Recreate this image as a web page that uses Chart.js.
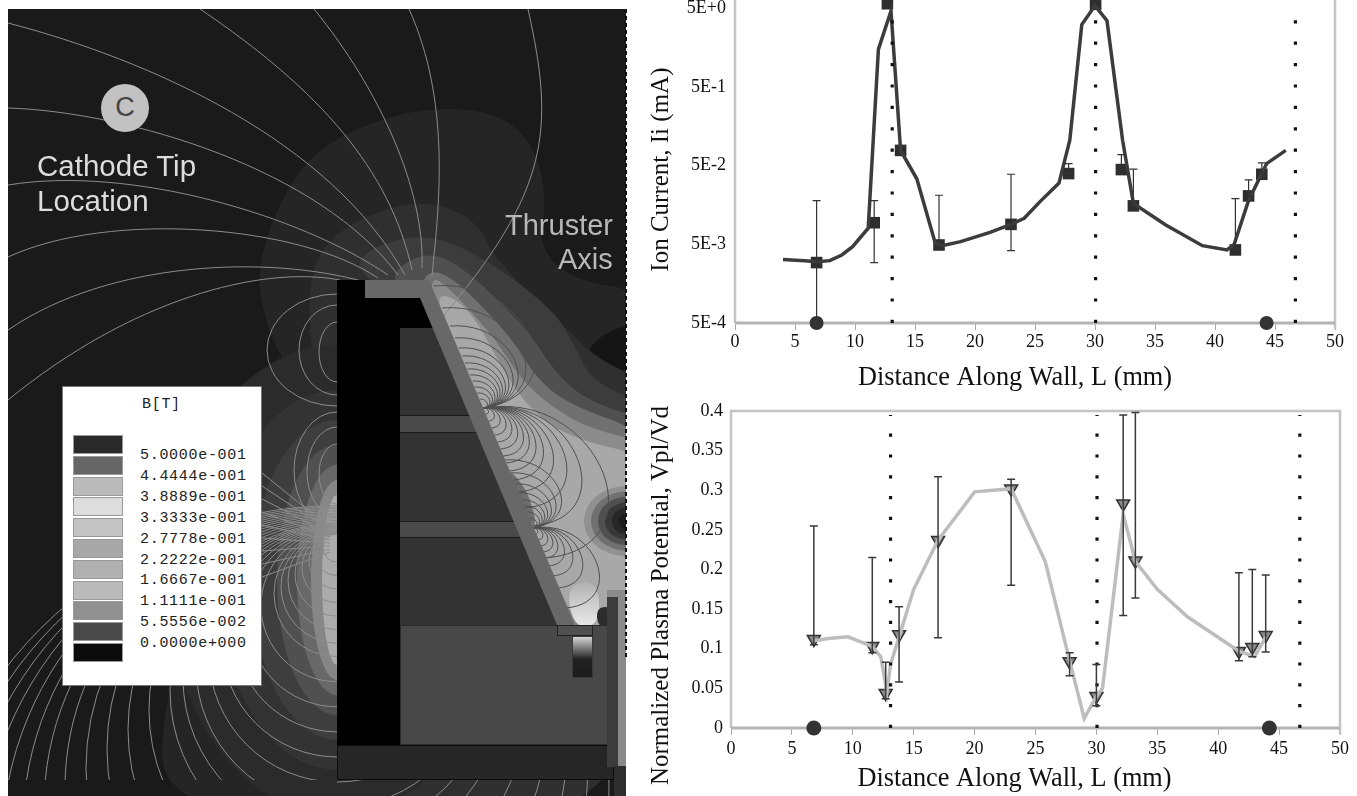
<!DOCTYPE html>
<html>
<head>
<meta charset="utf-8">
<title>Ion current and plasma potential along the wall</title>
<script src="https://cdn.jsdelivr.net/npm/chart.js@4"></script>
<style>
  html, body { margin: 0; padding: 0; background: #fff; }
  body { position: relative; width: 1357px; height: 796px; overflow: hidden; }
  canvas { position: absolute; display: block; }
  #fieldMap { left: 0; top: 0; }
  #ionChart { left: 640px; top: 0; }
  #potentialChart { left: 640px; top: 395px; }
  .label { position: absolute; white-space: nowrap; font-family: "Liberation Sans", sans-serif; }
  #legendBox { position: absolute; left: 62px; top: 386px; width: 198px; height: 298px; background: #fff; border: 1px solid #777; }
  .swatch { position: absolute; left: 10px; width: 50px; height: 19px; border: 1px solid #999; box-sizing: border-box; }
  .level { position: absolute; left: 77px; font: 15px "Liberation Mono", monospace; letter-spacing: 0.7px; color: #222; line-height: 18px; }
</style>
</head>
<body>
<canvas id="fieldMap" width="640" height="796"></canvas>
<div id="legendBox"></div>
<div class="label" style="left:101px;top:84px;width:48px;height:48px;line-height:46px;text-align:center;font-size:27px;color:#444;background:#c2c2c2;border-radius:50%">C</div>
<div class="label" style="left:37px;top:149px;font-size:29.5px;color:#ddd">Cathode Tip</div>
<div class="label" style="left:37px;top:184px;font-size:29.5px;color:#ddd">Location</div>
<div class="label" style="left:505px;top:209px;font-size:29px;color:#b8b8b8">Thruster</div>
<div class="label" style="left:558px;top:243px;font-size:29px;color:#b8b8b8">Axis</div>
<canvas id="ionChart" width="717" height="395"></canvas>
<canvas id="potentialChart" width="717" height="401"></canvas>

<script>
// DATA

const xTicks = [0, 5, 10, 15, 20, 25, 30, 35, 40, 45, 50];
const wallMarks = [13.1, 30.05, 46.7];

const ionTickValues = [5e-4, 5e-3, 5e-2, 5e-1, 5];
const ionTickLabels = ['5E-4', '5E-3', '5E-2', '5E-1', '5E+0'];
const ionLineX = [4, 5.8, 6.8, 7.9, 8.9, 9.8, 11.1, 11.95, 13, 13.8, 15.15, 16.7, 17.25, 18.8, 21.25, 23, 24.1, 25.4, 27, 27.9, 28.9, 30, 31, 32.3, 33.2, 35.9, 38.95, 41, 41.6, 42.8, 44.3, 45.9];
const ionLineY = [3.2e-3, 3.1e-3, 3e-3, 3.1e-3, 3.66e-3, 4.67e-3, 8e-3, 1.5, 4.6, 7.8e-2, 3.4e-2, 5.1e-3, 4.8e-3, 5.4e-3, 7.1e-3, 8.96e-3, 1.07e-2, 1.73e-2, 3e-2, 1.05e-1, 3.1, 5.4, 3.46, 1.05e-1, 1.65e-2, 8.8e-3, 4.8e-3, 4.24e-3, 5e-3, 1.8e-2, 5.3e-2, 7.8e-2];
const ionPointX = [6.8, 11.6, 12.7, 13.8, 17, 23, 27.8, 30.05, 32.2, 33.2, 41.7, 42.8, 43.9];
const ionPointY = [2.93e-3, 9.4e-3, 5.7, 7.8e-2, 4.9e-3, 8.96e-3, 3.96e-2, 5.6, 4.45e-2, 1.54e-2, 4.24e-3, 2.06e-2, 3.88e-2];
const ionErrHigh = [1.79e-2, 1.79e-2, 5.7, 7.8e-2, 2.1e-2, 3.88e-2, 5.3e-2, 5.6, 6.9e-2, 4.5e-2, 1.9e-2, 3.3e-2, 5.4e-2];
const ionErrLow = [5.8e-4, 2.93e-3, 5.7, 7.8e-2, 4.9e-3, 4.16e-3, 3.96e-2, 5.6, 4.45e-2, 1.54e-2, 4.24e-3, 2.06e-2, 3.88e-2];
const ionPoleX = [6.8, 44.3];

const potTickValues = [0, 0.05, 0.1, 0.15, 0.2, 0.25, 0.3, 0.35, 0.4];
const potTickLabels = ['0', '0.05', '0.1', '0.15', '0.2', '0.25', '0.3', '0.35', '0.4'];
const potLineX = [6.8, 8, 9.6, 11.6, 12.3, 12.8, 13.1, 13.8, 15, 17, 20, 23, 25.8, 27.8, 29, 30, 30.5, 32.2, 33.2, 35, 37.5, 41.7, 43, 43.9];
const potLineY = [0.11, 0.113, 0.115, 0.103, 0.09, 0.045, 0.08, 0.115, 0.175, 0.237, 0.298, 0.302, 0.21, 0.085, 0.012, 0.04, 0.05, 0.27, 0.21, 0.175, 0.14, 0.097, 0.09, 0.115];
const potPointX = [6.8, 11.6, 12.7, 13.8, 17, 23, 27.8, 30, 32.2, 33.2, 41.7, 42.8, 43.9];
const potPointY = [0.112, 0.103, 0.044, 0.118, 0.237, 0.302, 0.084, 0.04, 0.283, 0.211, 0.097, 0.102, 0.117];
const potErrHigh = [0.255, 0.215, 0.083, 0.153, 0.317, 0.314, 0.095, 0.08, 0.395, 0.398, 0.196, 0.2, 0.193];
const potErrLow = [0.105, 0.095, 0.037, 0.058, 0.114, 0.18, 0.066, 0.028, 0.142, 0.164, 0.085, 0.09, 0.096];
const potPoleX = [6.8, 44.2];

const legendLevels = ['5.0000e-001', '4.4444e-001', '3.8889e-001', '3.3333e-001', '2.7778e-001', '2.2222e-001', '1.6667e-001', '1.1111e-001', '5.5556e-002', '0.0000e+000'];
const legendColors = ['#2a2a2a', '#666666', '#bbbbbb', '#dddddd', '#c4c4c4', '#a8a8a8', '#b0b0b0', '#bbbbbb', '#909090', '#4a4a4a', '#0c0c0c'];

// LEGEND BOX

const legendBox = document.getElementById('legendBox');
legendBox.insertAdjacentHTML('beforeend', '<div class="level" style="left:79px;top:9px">B[T]</div>');
legendColors.forEach((c, i) => {
    legendBox.insertAdjacentHTML('beforeend', `<div class="swatch" style="top:${48 + i * 20.8}px;background:${c}"></div>`);
});
legendLevels.forEach((t, i) => {
    legendBox.insertAdjacentHTML('beforeend', `<div class="level" style="top:${60 + i * 20.9}px">${t}</div>`);
});

// FIELD MAP PICTURE (illustration next to the charts, not data)

function drawFieldMap() {
    const c = document.getElementById('fieldMap').getContext('2d');

    function blob(color, pts) {
        c.fillStyle = color;
        c.beginPath();
        const n = pts.length;
        c.moveTo((pts[n - 1][0] + pts[0][0]) / 2, (pts[n - 1][1] + pts[0][1]) / 2);
        pts.forEach((p, i) => {
            const q = pts[(i + 1) % n];
            c.quadraticCurveTo(p[0], p[1], (p[0] + q[0]) / 2, (p[1] + q[1]) / 2);
        });
        c.fill();
    }
    function rect(color, x, y, w, h, edge) {
        c.fillStyle = color;
        c.fillRect(x, y, w, h);
        if (edge) {
            c.strokeStyle = edge;
            c.lineWidth = 1;
            c.strokeRect(x + 0.5, y + 0.5, w - 1, h - 1);
        }
    }
    function poly(color, pts) {
        c.fillStyle = color;
        c.beginPath();
        pts.forEach((p, i) => i ? c.lineTo(p[0], p[1]) : c.moveTo(p[0], p[1]));
        c.closePath();
        c.fill();
    }

    c.save();
    c.beginPath();
    c.rect(8, 9, 618, 787);
    c.clip();
    c.fillStyle = '#1a1a1a';
    c.fillRect(8, 9, 618, 787);

    // field bands on the far side of the body
    blob('#252525', [[255, 267], [288, 183], [329, 140], [411, 108], [493, 110], [534, 143], [547, 200], [538, 247], [575, 282], [660, 292], [660, 830], [165, 830], [160, 686], [262, 470], [292, 410], [290, 370], [268, 333]]);
    blob('#151515', [[640, 320], [600, 335], [585, 355], [600, 375], [640, 385]]);
    blob('#2f2f2f', [[329, 233], [411, 198], [473, 215], [497, 262], [560, 322], [600, 362], [660, 385], [660, 830], [240, 830], [250, 600], [320, 420], [305, 290]]);

    const lobeRx = [170, 120, 85, 60, 40, 26, 15];
    const lobeRy = [235, 190, 160, 135, 115, 100, 85];
    const lobeFill = ['#2b2b2b', '#333333', '#3e3e3e', '#505050', '#686868', '#868686', '#ababab'];
    lobeRx.forEach((rx, i) => {
        c.fillStyle = lobeFill[i];
        c.beginPath();
        c.ellipse(337, 580, rx, lobeRy[i], 0, 0, Math.PI * 2);
        c.fill();
    });

    blob('#3c3c3c', [[345, 262], [410, 232], [470, 248], [553, 308], [577, 350], [592, 382], [660, 410], [660, 720], [430, 660], [400, 300]]);
    blob('#505050', [[385, 278], [422, 252], [458, 262], [527, 328], [555, 373], [589, 402], [660, 424], [660, 660], [500, 650], [430, 310]]);
    blob('#707070', [[420, 275], [446, 270], [510, 335], [535, 377], [569, 405], [660, 437], [660, 650], [560, 650], [430, 310]]);
    blob('#8c8c8c', [[430, 280], [442, 280], [495, 338], [519, 377], [549, 405], [589, 429], [660, 445], [660, 650], [565, 650], [436, 310]]);
    blob('#a8a8a8', [[436, 290], [470, 308], [504, 372], [532, 412], [575, 440], [660, 458], [660, 650], [575, 650], [445, 325]]);

    // dark spot at the axis, stepped rings
    ['#909090', '#707070', '#505050', '#383838', '#262626', '#1a1a1a'].forEach((col, i) => {
        c.fillStyle = col;
        c.beginPath();
        c.ellipse(626, 521, 42 - i * 7, 35 - i * 5.5, 0, 0, Math.PI * 2);
        c.fill();
    });
    // dark smear along the wall and bright pole area
    blob('#6e6e6e', [[505, 465], [528, 490], [538, 530], [522, 510]]);
    const pole = c.createLinearGradient(0, 575, 0, 625);
    pole.addColorStop(0, '#a8a8a8');
    pole.addColorStop(1, '#e8e8e8');
    blob(pole, [[566, 585], [598, 580], [600, 625], [574, 628]]);
    blob('#2c2c2c', [[596, 608], [612, 606], [612, 627], [598, 627]]);

    // field lines, left of the body
    c.lineWidth = 1;
    c.strokeStyle = '#8c8c8c';
    const farLines = [
        [8, 23, 150, 60, 330, 140, 405, 275],
        [8, 108, 130, 112, 320, 170, 398, 275],
        [8, 185, 130, 165, 300, 215, 388, 275],
        [8, 257, 110, 210, 300, 225, 378, 278],
        [8, 330, 110, 260, 270, 255, 365, 282],
        [8, 400, 130, 300, 260, 265, 340, 280],
        [200, 9, 320, 90, 390, 170, 412, 270],
        [314, 9, 380, 90, 425, 190, 422, 268],
        [409, 9, 450, 100, 440, 200, 432, 275],
        [528, 9, 555, 130, 550, 190, 440, 320]
    ];
    farLines.forEach(l => {
        c.beginPath();
        c.moveTo(l[0], l[1]);
        c.bezierCurveTo(l[2], l[3], l[4], l[5], l[6], l[7]);
        c.stroke();
    });

    // arcs above and below the wall pole
    c.save();
    c.beginPath();
    c.rect(0, 0, 337, 780);
    c.rect(337, 780, 300, 16);
    c.clip();
    [[350, 70, 56], [350, 38, 45], [352, 18, 30], [470, 43, 58], [472, 30, 45], [474, 18, 30]].forEach(l => {
        c.beginPath();
        c.ellipse(337, l[0], l[1], l[2], 0, 0, Math.PI * 2);
        c.stroke();
    });
    let r = 14;
    while (r < 420) {
        c.beginPath();
        c.arc(337, 535 + r * 0.93, r, 0, Math.PI * 2);
        c.stroke();
        r += r < 60 ? 7 : r < 160 ? 13 : 21;
    }
    for (let i = 0; i < 9; i++) {
        c.beginPath();
        c.moveTo(330, 528 + i * 3);
        c.lineTo(262, 473 + i * 13);
        c.stroke();
    }
    c.restore();

    // field lines, fans on the channel side
    c.strokeStyle = '#505050';
    const slope = 115 / 280;
    const nx = 0.924, ny = -0.38;
    function fan(py, dir, lengths) {
        const px = 428 + (py - 280) * slope + 3;
        lengths.forEach(s => {
            const ey = py + dir * s;
            const ex = 428 + (ey - 280) * slope + 3;
            const b = s * 0.85;
            c.beginPath();
            c.moveTo(px, py);
            c.bezierCurveTo(px + nx * b, py + ny * b * 0.4, ex + nx * b, ey + ny * b * 0.2, ex, ey);
            c.stroke();
        });
    }
    fan(408, -1, [9, 15, 21, 27, 33, 39, 45, 52, 60, 70, 82, 100, 122]);
    fan(408, 1, [6, 13, 20, 27, 34, 41, 48, 55, 63, 72, 84, 100, 118, 150]);
    fan(528, -1, [5, 10, 16, 22, 28, 35, 44, 55, 68]);
    fan(528, 1, [6, 12, 18, 24, 30, 38, 48, 60, 80]);

    // body of the thruster
    poly('#333333', [[400, 328], [446, 328], [560, 625], [400, 625]]);
    poly('#4a4a4a', [[400, 415], [478, 415], [489, 432], [400, 432]]);
    poly('#4a4a4a', [[400, 521], [520, 521], [527, 537], [400, 537]]);
    c.strokeStyle = '#1c1c1c';
    [[400, 415, 480], [400, 432, 490], [400, 521, 522], [400, 537, 528]].forEach(l => {
        c.beginPath();
        c.moveTo(l[0], l[1] + 0.5);
        c.lineTo(l[2], l[1] + 0.5);
        c.stroke();
    });
    rect('#484848', 400, 625, 214, 120, '#2c2c2c');
    rect('#000000', 337, 280, 63, 465);
    poly('#000000', [[400, 298], [425, 298], [446, 328], [400, 328]]);
    rect('#000000', 337, 280, 28, 20);
    poly('#686868', [[365, 280], [429, 280], [575, 625], [557, 625], [420, 298], [365, 298]]);
    rect('#505050', 557, 625, 36, 11, '#222222');
    const pocket = c.createLinearGradient(0, 636, 0, 678);
    pocket.addColorStop(0, '#dddddd');
    pocket.addColorStop(0.3, '#777777');
    pocket.addColorStop(0.55, '#222222');
    pocket.addColorStop(1, '#1c1c1c');
    c.fillStyle = pocket;
    c.fillRect(572, 636, 21, 42);
    c.strokeStyle = '#3a3a3a';
    c.strokeRect(572.5, 636.5, 20, 41);
    rect('#262626', 337, 745, 277, 35, '#0c0c0c');
    rect('#8a8a8a', 607, 590, 19, 8);
    rect('#3c3c3c', 607, 597, 11, 170);
    rect('#8a8a8a', 618, 590, 8, 176);
    rect('#2e2e2e', 614, 766, 12, 30);
    c.restore();

    // torn right edge of the picture
    c.strokeStyle = '#111111';
    c.lineWidth = 2;
    c.setLineDash([4, 3]);
    c.beginPath();
    c.moveTo(626, 9);
    c.lineTo(626, 660);
    c.stroke();
    c.setLineDash([]);
}

drawFieldMap();

// CHARTS

const tickFont = { family: '"Liberation Serif", serif', size: 18 };
const xTitleFont = { family: '"Liberation Serif", serif', size: 26.3 };
const yTitleFont = { family: '"Liberation Serif", serif', size: 25 };

// error bars, plot frame, off-centre axis titles
const plotExtras = {
    id: 'plotExtras',
    afterLayout(chart, args, opts) {
        chart.scales.x.right -= opts.xTitleShift * 2;
        chart.scales.y.top += opts.yTitleShift * 2;
    },
    beforeDatasetsDraw(chart, args, opts) {
        const a = chart.chartArea;
        const ctx = chart.ctx;
        ctx.save();
        ctx.strokeStyle = '#c4c4c4';
        ctx.lineWidth = 2.5;
        ctx.beginPath();
        ctx.moveTo(a.right, a.bottom + 6);
        ctx.lineTo(a.right, opts.topEdge ? a.top : 0);
        if (opts.topEdge) {
            ctx.lineTo(a.left, a.top);
        } else {
            ctx.moveTo(a.left, 0);
        }
        ctx.lineTo(a.left, a.bottom);
        ctx.stroke();
        ctx.strokeStyle = '#b4b4b4';
        ctx.lineWidth = 3;
        ctx.beginPath();
        ctx.moveTo(a.left, a.bottom);
        ctx.lineTo(a.right, a.bottom);
        ctx.stroke();
        ctx.restore();
    },
    afterDatasetsDraw(chart, args, opts) {
        const ctx = chart.ctx;
        const xs = chart.scales.x;
        const ys = chart.scales.y;
        ctx.save();
        ctx.strokeStyle = opts.errColor;
        ctx.lineWidth = opts.errWidth;
        opts.x.forEach((v, i) => {
            const px = xs.getPixelForValue(v);
            const hi = ys.getPixelForValue(opts.high[i]);
            const lo = ys.getPixelForValue(opts.low[i]);
            if (Math.abs(hi - lo) < 1) return;
            ctx.beginPath();
            ctx.moveTo(px, hi);
            ctx.lineTo(px, lo);
            ctx.moveTo(px - 4, hi);
            ctx.lineTo(px + 4, hi);
            ctx.moveTo(px - 4, lo);
            ctx.lineTo(px + 4, lo);
            ctx.stroke();
        });
        ctx.restore();
    }
};

function pairs(xs, ys) {
    return xs.map((x, i) => ({ x: x, y: ys[i] }));
}

function xAxis(height, labelPad) {
    return {
        type: 'linear',
        min: 0,
        max: 50,
        afterBuildTicks: s => { s.ticks = xTicks.map(v => ({ value: v })); },
        afterFit: s => {
            s.height = height;
            s.paddingLeft = 0;
            s.paddingRight = 0;
        },
        grid: { drawOnChartArea: false, color: '#aaaaaa', tickLength: 7 },
        border: { display: false },
        ticks: { font: tickFont, color: '#111', maxRotation: 0, padding: labelPad, callback: v => String(v) },
        title: { display: true, text: 'Distance Along Wall, L (mm)', font: xTitleFont, color: '#111', padding: { top: 0, bottom: 1 } }
    };
}

function dottedSets(lowY, highY, gap) {
    return wallMarks.map(x => ({
        data: [{ x: x, y: lowY }, { x: x, y: highY }],
        showLine: true,
        borderColor: '#111',
        borderWidth: 3.2,
        borderDash: [3.2, gap],
        pointRadius: 0,
        clip: false
    }));
}

new Chart(document.getElementById('ionChart'), {
    type: 'scatter',
    data: {
        datasets: [
            ...dottedSets(5e-4, 5.6, 18.2),
            { data: pairs(ionLineX, ionLineY), showLine: true, borderColor: '#3c3c3c', borderWidth: 3.5, pointRadius: 0, clip: false },
            { data: pairs(ionPointX, ionPointY), pointStyle: 'rect', pointRadius: 8.2, backgroundColor: '#2e2e2e', borderWidth: 0, clip: false },
            { data: ionPoleX.map(x => ({ x: x, y: 5e-4 })), pointStyle: 'circle', pointRadius: 7, backgroundColor: '#333', borderWidth: 0, clip: false }
        ]
    },
    options: {
        responsive: false,
        animation: false,
        layout: { padding: { top: 6, right: 22, left: 0, bottom: 0 } },
        plugins: {
            legend: { display: false },
            tooltip: { enabled: false },
            plotExtras: { x: ionPointX, high: ionErrHigh, low: ionErrLow, errColor: '#333', errWidth: 1.2, xTitleShift: 20, yTitleShift: 4 }
        },
        scales: {
            x: xAxis(72, 1),
            y: {
                type: 'logarithmic',
                min: 5e-4,
                max: 5,
                afterBuildTicks: s => { s.ticks = ionTickValues.map(v => ({ value: v })); },
                afterFit: s => {
                    s.width = 95;
                    s.paddingTop = 0;
                    s.paddingBottom = 0;
                },
                grid: { drawOnChartArea: false, drawTicks: false },
                border: { display: false },
                ticks: { font: tickFont, color: '#111', padding: 9, callback: v => ionTickLabels[ionTickValues.indexOf(v)] },
                title: { display: true, text: 'Ion Current, Ii (mA)', font: yTitleFont, color: '#111', padding: { top: 6, bottom: 0 } }
            }
        }
    },
    plugins: [plotExtras]
});

new Chart(document.getElementById('potentialChart'), {
    type: 'scatter',
    data: {
        datasets: [
            ...dottedSets(0, 0.395, 17.6),
            { data: pairs(potLineX, potLineY), showLine: true, borderColor: '#bdbdbd', borderWidth: 3.5, pointRadius: 0 },
            { data: pairs(potPointX, potPointY), pointStyle: 'triangle', rotation: 180, pointRadius: 7.5, backgroundColor: '#8a8a8a', borderColor: '#333', borderWidth: 1.5, clip: false },
            { data: potPoleX.map(x => ({ x: x, y: 0 })), pointStyle: 'circle', pointRadius: 7.5, backgroundColor: '#333', borderWidth: 0, clip: false }
        ]
    },
    options: {
        responsive: false,
        animation: false,
        layout: { padding: { top: 16, right: 17, left: 0, bottom: 0 } },
        plugins: {
            legend: { display: false },
            tooltip: { enabled: false },
            plotExtras: { x: potPointX, high: potErrHigh, low: potErrLow, errColor: '#3a3a3a', errWidth: 1.5, topEdge: true, xTitleShift: 21, yTitleShift: 26 }
        },
        scales: {
            x: xAxis(68, 3),
            y: {
                type: 'linear',
                min: 0,
                max: 0.4,
                afterBuildTicks: s => { s.ticks = potTickValues.map(v => ({ value: v })); },
                afterFit: s => {
                    s.width = 91;
                    s.paddingTop = 0;
                    s.paddingBottom = 0;
                },
                grid: { drawOnChartArea: false, drawTicks: false },
                border: { display: false },
                ticks: { font: tickFont, color: '#111', padding: 8, callback: v => potTickLabels[potTickValues.indexOf(v)] },
                title: { display: true, text: 'Normalized Plasma Potential, Vpl/Vd', font: yTitleFont, color: '#111', padding: { top: 6, bottom: 0 } }
            }
        }
    },
    plugins: [plotExtras]
});
</script>
</body>
</html>
